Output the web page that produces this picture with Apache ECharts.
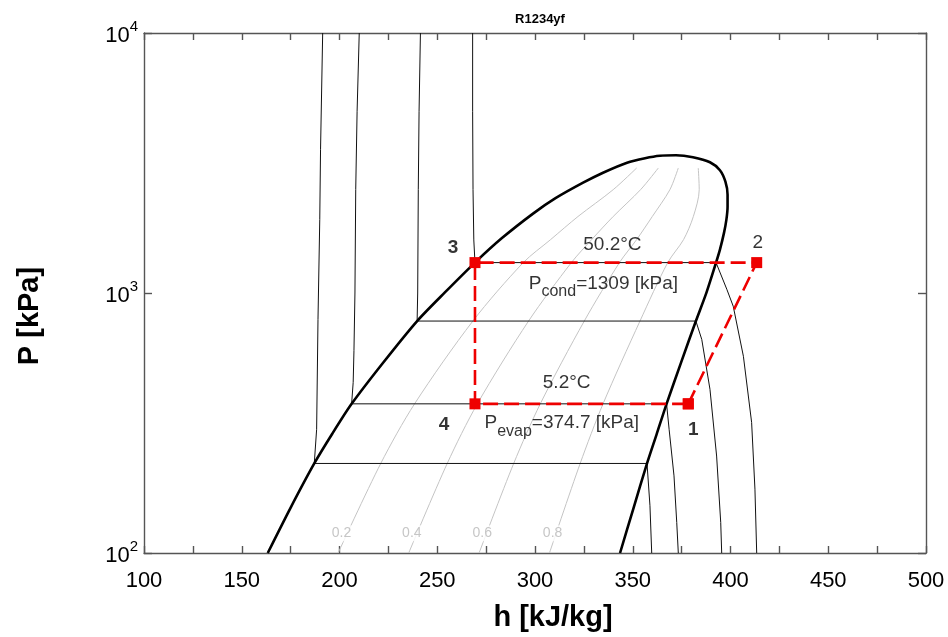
<!DOCTYPE html>
<html>
<head>
<meta charset="utf-8">
<script src="https://cdn.jsdelivr.net/npm/echarts@6/dist/echarts.min.js"></script>
<style>html,body{margin:0;padding:0;background:#fff;}#c{width:948px;height:637px;}</style>
</head>
<body>
<div id="c"></div>
<script>
// ---- Data (h in kJ/kg, P in kPa) ----
const xTicks = [100, 150, 200, 250, 300, 350, 400, 450, 500];
const yTicks = [100, 1000, 10000];

// saturation dome (liquid side -> top -> vapour side)
const domeH = [163.3,174.9,187.1,196.3,206.2,222.2,239.7,253.9,269.3,283.1,299.0,310.5,324.6,334.8,347.1,356.3,363.9,372.1,380.8,389.5,394.6,397.4,398.5,398.5,397.9,396.7,394.6,392.6,387.7,382.3,374.7,367.3,362.2,357.3,350.4,343.5];
const domeP = [100,148.9,221,287.5,374.7,538,780,1005,1309,1626,2020,2315,2656,2901,3170,3299,3372,3387,3328,3184,2966,2679,2388,2148,1915,1707,1469,1309,1004,780,540,374.7,286,221,148.9,100];

// isotherms (compressed liquid -> two-phase -> superheated vapour)
const isoAH = [191.4,190.3,189.9,189.0,188.3,187.1,357.3,358.8,359.7];
const isoAP = [10000,3556,1915,791,299,221,221,152,100];
const isoBH = [210.1,209.0,208.3,207.9,207.4,207.0,206.2,367.3,368.6,371.1,372.5,373.3];
const isoBP = [10000,5000,2500,1000,600,453,374.7,374.7,299,198,131,100];
const isoCH = [241.4,240.7,240.3,240.0,239.7,382.3,385.3,389.5,392.9,395.0,395.5];
const isoCP = [10000,5000,2500,1000,780,780,663,426,236,131,100];
const isoDH = [268.1,268.1,268.3,268.7,269.3,392.6,398.1,401.4,406.6,410.8,412.5,413.4];
const isoDP = [10000,5000,2500,1600,1309,1309,1034,889,571,318,176,100];

// constant quality lines
const qualityNames = ['0.2','0.4','0.6','0.8'];
const qualityP = [100,221,374.7,780,1309,1605,1969,2497,3026];
const q02H = [199.3,221.1,238.4,268.2,294.0,308.0,322.0,340.0,352.0];
const q04H = [235.4,255.1,270.5,296.7,318.6,329.0,340.0,354.0,363.1];
const q06H = [271.4,289.1,302.7,325.2,343.2,352.0,360.0,369.0,373.3];
const q08H = [307.4,323.1,334.8,353.7,367.9,376.0,381.0,384.0,383.5];
const qualityLabelH = [201,237,273,309];
const qualityLabelP = 119;

// refrigeration cycle states 1..4
const cycleNames = ['1','2','3','4'];
const cycleH = [378.4, 413.4, 269.3, 269.3];
const cycleP = [374.7, 1309, 1309, 374.7];

// annotations
const tCond = '50.2°C', pCond = 1309;
const tEvap = '5.2°C',  pEvap = 374.7;
const annoTempH = [339.6, 316.2], annoTempP = [1538, 452];
const annoPresH = [335.0, 313.7], annoPresP = [1055, 306];

// ---- build ----
const FONT = '"Liberation Sans", Arial, sans-serif';
const zip = (hs, ps) => hs.map((h, i) => [h, Array.isArray(ps) ? ps[i] : ps]);
const noBorder = { textBorderWidth: 0, textBorderColor: 'transparent', textShadowBlur: 0 };

const series = [];
[q02H, q04H, q06H, q08H].forEach((arr, i) => {
  series.push({
    type: 'line', name: 'x=' + qualityNames[i], data: zip(arr, qualityP),
    showSymbol: false, smooth: 0.3, silent: true, z: 1,
    lineStyle: { color: '#c4c4c4', width: 1 }
  });
});
series.push({
  type: 'scatter', name: 'quality labels', symbolSize: 0, z: 3, silent: true,
  data: qualityLabelH.map((h, i) => ({ value: [h, qualityLabelP], name: qualityNames[i] })),
  label: Object.assign({ show: true, position: 'inside', formatter: p => p.name, color: '#b8b8b8',
           fontSize: 14, fontFamily: FONT, backgroundColor: '#fff', padding: [1, 2] }, noBorder)
});
[[isoAH, isoAP], [isoBH, isoBP], [isoCH, isoCP], [isoDH, isoDP]].forEach((it, i) => {
  series.push({
    type: 'line', name: 'isotherm' + i, data: zip(it[0], it[1]),
    showSymbol: false, smooth: false, silent: true, z: 2,
    lineStyle: { color: '#111', width: 1 }
  });
});
series.push({
  type: 'line', name: 'saturation', data: zip(domeH, domeP),
  showSymbol: false, smooth: 0.25, silent: true, z: 4,
  lineStyle: { color: '#000', width: 2.6 }
});
const cyc = zip(cycleH, cycleP);
series.push({
  type: 'line', name: 'cycle', data: cyc.concat([cyc[0]]),
  symbol: 'rect', symbolSize: 11, showSymbol: true, z: 6,
  itemStyle: { color: '#ee0000' },
  lineStyle: { color: '#ee0000', width: 2.6, type: [15, 6] }
});
const numOffsets = [[5, 26], [1, -20], [-22, -15], [-31, 21]];
series.push({
  type: 'scatter', name: 'state labels', symbolSize: 0, z: 7, silent: true,
  data: cyc.map((v, i) => ({ value: v, name: cycleNames[i],
    label: { offset: numOffsets[i], fontWeight: i === 1 ? 'normal' : 'bold' } })),
  label: Object.assign({ show: true, position: 'inside', formatter: p => p.name, color: '#000',
           fontSize: 19, fontFamily: FONT }, noBorder)
});
const richTxt = {
  p: Object.assign({ fontSize: 19, fontFamily: FONT, color: '#000', padding: [0, 0, 7, 0], verticalAlign: 'bottom' }, noBorder),
  s: Object.assign({ fontSize: 16, fontFamily: FONT, color: '#000', verticalAlign: 'bottom' }, noBorder)
};
series.push({
  type: 'scatter', name: 'annotations', symbolSize: 0, z: 7, silent: true,
  data: [
    { value: [annoTempH[0], annoTempP[0]], name: tCond },
    { value: [annoTempH[1], annoTempP[1]], name: tEvap },
    { value: [annoPresH[0], annoPresP[0]], name: '{p|P}{s|cond}{p|=' + pCond + ' [kPa]}' },
    { value: [annoPresH[1], annoPresP[1]], name: '{p|P}{s|evap}{p|=' + pEvap + ' [kPa]}' }
  ],
  label: Object.assign({ show: true, position: 'inside', formatter: p => p.name, color: '#000',
           fontSize: 19, fontFamily: FONT, rich: richTxt }, noBorder)
});

const axisLineStyle = { color: '#555', width: 1.4 };
const chart = echarts.init(document.getElementById('c'), null, { renderer: 'canvas' });
chart.setOption({
  backgroundColor: '#fff',
  animation: false,
  title: { text: 'R1234yf', left: 535, top: 8, textAlign: 'center',
           textStyle: { fontSize: 13, fontWeight: 'bold', fontFamily: FONT, color: '#000' } },
  grid: { left: 144, right: 22, top: 33, bottom: 83, show: false },
  xAxis: [{
    type: 'value', min: 100, max: 500, interval: 25, position: 'bottom',
    name: 'h [kJ/kg]', nameLocation: 'middle', nameGap: 50,
    nameTextStyle: { fontSize: 29, fontWeight: 'bold', fontFamily: FONT, color: '#000', padding: [0, 0, 0, 36] },
    axisLine: { lineStyle: axisLineStyle },
    axisTick: { inside: true, length: 7, lineStyle: axisLineStyle },
    axisLabel: { margin: 17, fontSize: 22, fontFamily: FONT, color: '#000',
                 formatter: v => xTicks.indexOf(v) >= 0 ? String(v) : '' },
    splitLine: { show: false }
  }, {
    type: 'value', min: 100, max: 500, interval: 25, position: 'top',
    axisLine: { lineStyle: axisLineStyle },
    axisTick: { inside: true, length: 7, lineStyle: axisLineStyle },
    axisLabel: { show: false }, splitLine: { show: false }
  }],
  yAxis: [{
    type: 'log', logBase: 10, min: 100, max: 10000, position: 'left',
    name: 'P [kPa]', nameLocation: 'middle', nameGap: 100, nameRotate: 90,
    nameTextStyle: { fontSize: 29, fontWeight: 'bold', fontFamily: FONT, color: '#000', padding: [0, 46, 0, 0] },
    axisLine: { lineStyle: axisLineStyle },
    axisTick: { inside: true, length: 8, lineStyle: axisLineStyle },
    axisLabel: { margin: 6, fontFamily: FONT, color: '#000',
      formatter: v => yTicks.indexOf(Math.round(v)) >= 0 ? '{b|10}{s|' + Math.round(Math.log10(v)) + '}' : '',
      rich: { b: { fontSize: 22, fontFamily: FONT, color: '#000', padding: [6, 0, 0, 0] },
              s: { fontSize: 15, fontFamily: FONT, color: '#000', verticalAlign: 'top' } } },
    splitLine: { show: false }
  }, {
    type: 'log', logBase: 10, min: 100, max: 10000, position: 'right',
    axisLine: { lineStyle: axisLineStyle },
    axisTick: { inside: true, length: 8, lineStyle: axisLineStyle },
    axisLabel: { show: false }, splitLine: { show: false }
  }],
  series: series
});
</script>
</body>
</html>
